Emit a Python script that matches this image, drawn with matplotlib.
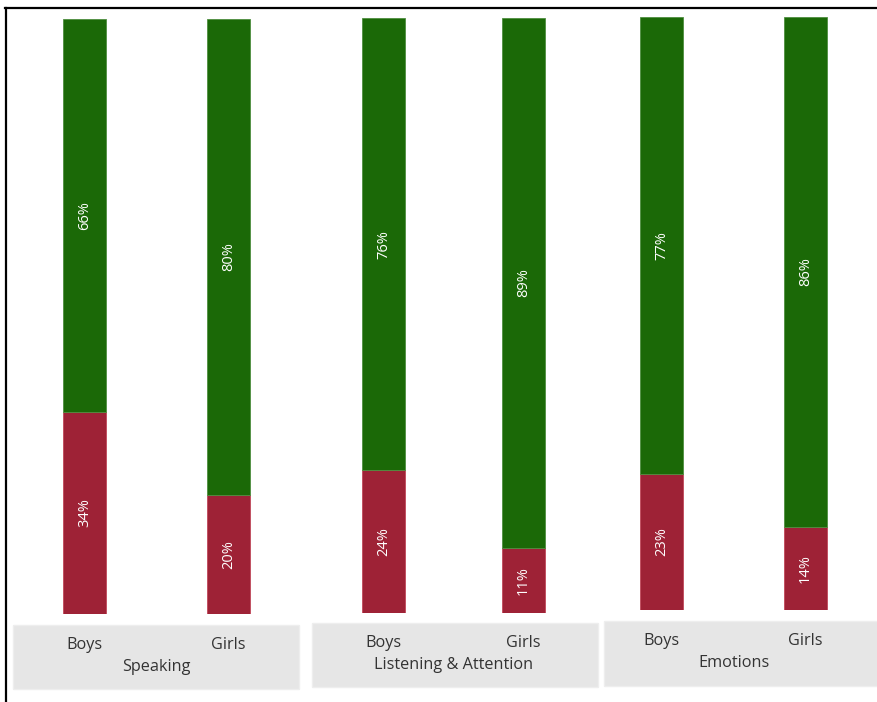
import matplotlib.pyplot as plt
from matplotlib.patches import Rectangle
from matplotlib.lines import Line2D

plt.rcParams['font.family'] = ['Open Sans', 'DejaVu Sans']

categories = ['Speaking', 'Listening & Attention', 'Emotions']
genders = ['Boys', 'Girls']
# share of children per category and gender
on_track = [[66, 80], [76, 89], [77, 86]]
not_on_track = [[34, 20], [24, 11], [23, 14]]

GREEN = '#1b6907'
RED = '#9e2236'
BOX = '#e6e6e6'
TEXT = '#333333'

W, H = 877, 702
fig = plt.figure(figsize=(W / 100, H / 100), dpi=100)


def px(left, top, width, height):
    return [left / W, 1 - (top + height) / H, width / W, height / H]


# panel geometry in pixels: (first bar centre, bar spacing, bar top, bar bottom)
panels = [(84.5, 144, 19, 614), (383.5, 140, 18, 613), (661.5, 144, 17, 610)]
boxes = [(13, 625, 286, 64), (312, 623, 286, 64), (604, 621, 280, 65)]
bar_px = 43

# grey label strips under each group
for (bl, bt, bw, bh) in boxes:
    fig.patches.append(Rectangle((bl / W, 1 - (bt + bh) / H), bw / W, bh / H,
                                 transform=fig.transFigure, facecolor=BOX,
                                 edgecolor='#eeeeee', lw=1, zorder=0))

for i, cat in enumerate(categories):
    c0, sp, top, bottom = panels[i]
    ax = fig.add_axes(px(c0 - sp / 2, top, 2 * sp, bottom - top))
    x = [0, 1]
    w = bar_px / sp
    ax.bar(x, not_on_track[i], width=w, color=RED, edgecolor='#c0485a', lw=0.6)
    ax.bar(x, on_track[i], width=w, bottom=not_on_track[i], color=GREEN,
           edgecolor='#4f8f40', lw=0.6)
    for j in range(2):
        r = not_on_track[i][j]
        g = on_track[i][j]
        ax.text(x[j], r / 2, f'{r}%', rotation=90, color='white', fontsize=10.5,
                ha='center', va='center')
        ax.text(x[j], r + g / 2, f'{g}%', rotation=90, color='white', fontsize=10.5,
                ha='center', va='center')
    ax.set_xlim(-0.5, 1.5)
    ax.set_ylim(0, 100)
    ax.axis('off')

    bt = boxes[i][1]
    for j, gname in enumerate(genders):
        xc = (c0 + j * sp) / W
        fig.text(xc, 1 - (bt + 20) / H, gname, ha='center', va='center',
                 fontsize=11.7, color=TEXT)
    fig.text((c0 + sp / 2) / W, 1 - (bt + 42) / H, cat, ha='center', va='center',
             fontsize=11.7, color=TEXT)

# frame lines along the top and left edges
fig.lines.append(Line2D([5 / W, 1], [1 - 8 / H, 1 - 8 / H], transform=fig.transFigure,
                        color='black', lw=1.6))
fig.lines.append(Line2D([5.5 / W, 5.5 / W], [0, 1 - 8 / H], transform=fig.transFigure,
                        color='black', lw=1.6))

fig.savefig('out.png', dpi=100)
